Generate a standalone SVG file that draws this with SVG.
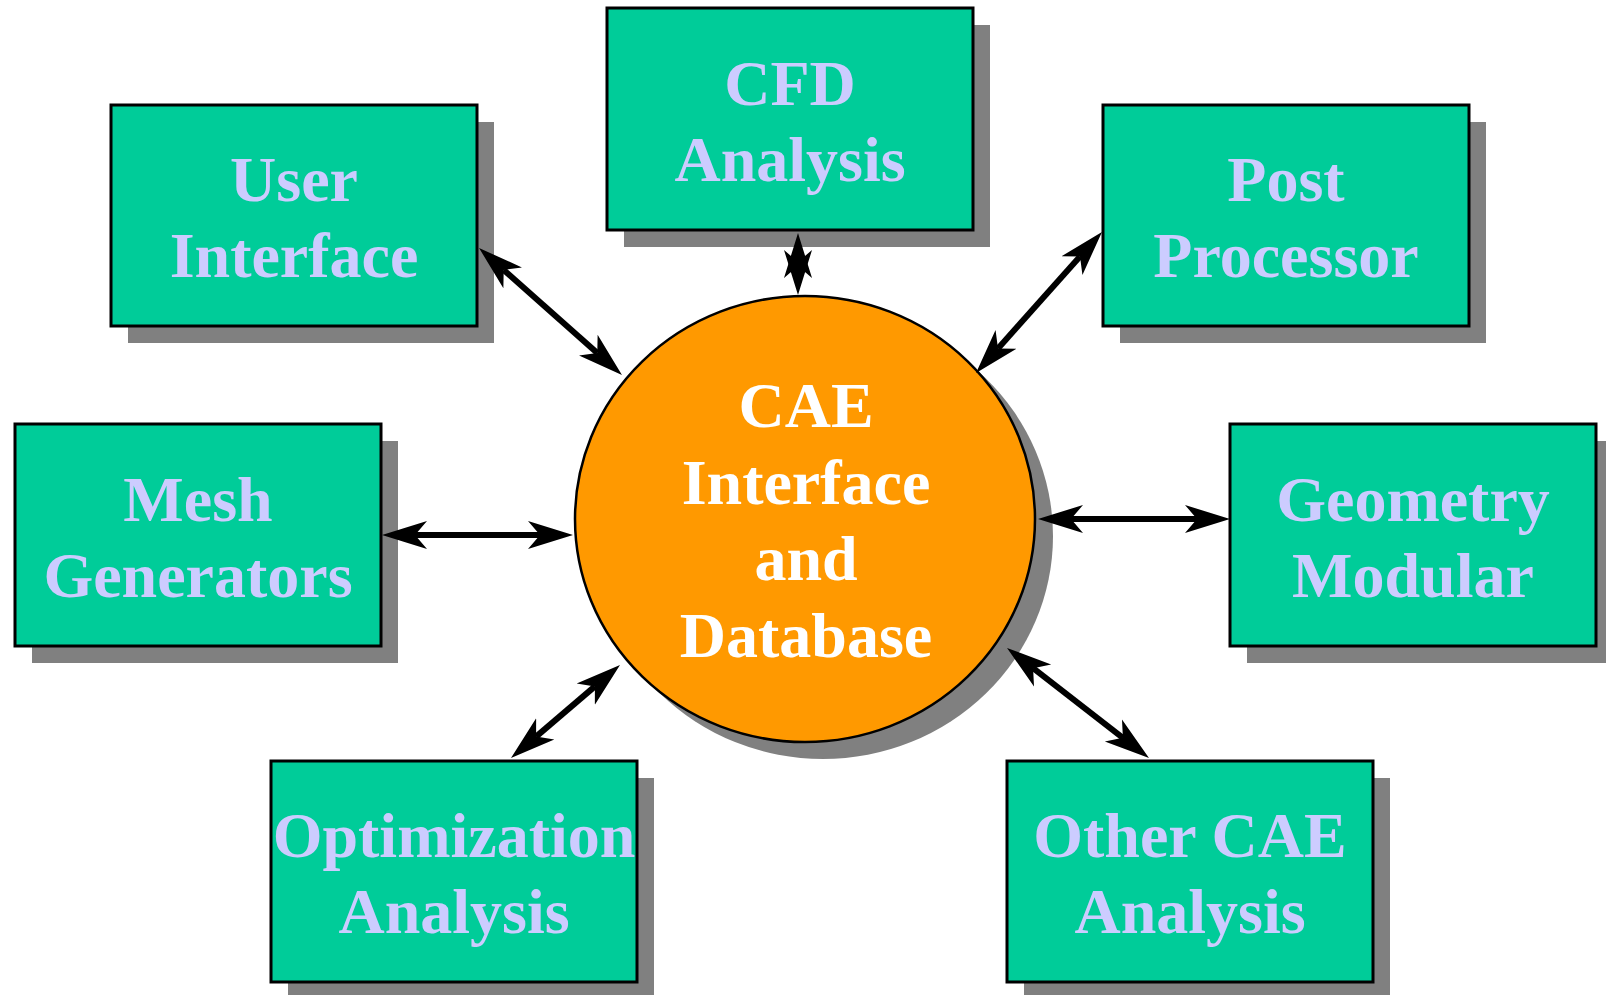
<svg xmlns="http://www.w3.org/2000/svg" width="1606" height="995" viewBox="0 0 1606 995">
  <style>
    .shadow { fill: #808080; }
    .box { fill: #00CC99; stroke: #000000; stroke-width: 3; }
    .hub { fill: #FF9900; stroke: #000000; stroke-width: 2.5; }
    .label { font-family: "Liberation Serif", "Times New Roman", serif; font-weight: bold; font-size: 64px; fill: #CCCCFF; text-anchor: middle; }
    .hub-label { font-family: "Liberation Serif", "Times New Roman", serif; font-weight: bold; font-size: 64px; fill: #FFFFFF; text-anchor: middle; }
    .link { fill: none; stroke: #000000; stroke-width: 6; marker-start: url(#head); marker-end: url(#head); }
    .half { fill: none; stroke: #000000; stroke-width: 6; marker-end: url(#head); }
  </style>
  <defs>
    <!-- barbed arrowhead; reference point sits in the notch, tip lies 33px ahead -->
    <marker id="head" markerUnits="userSpaceOnUse" markerWidth="46" markerHeight="30" viewBox="0 0 46 30" refX="12" refY="15" orient="auto-start-reverse">
      <path d="M45,15 L0,1 L12,15 L0,29 Z" fill="#000000"/>
    </marker>
  </defs>

  <rect width="1606" height="995" fill="#FFFFFF"/>

  <g id="node-cfd">
    <rect class="shadow" x="624" y="25" width="366" height="222"/>
    <rect class="box" x="607" y="8" width="366" height="222"/>
    <text class="label" x="790" y="105">CFD</text>
    <text class="label" x="790" y="181">Analysis</text>
  </g>

  <g id="node-user-interface">
    <rect class="shadow" x="128" y="122" width="366" height="221"/>
    <rect class="box" x="111" y="105" width="366" height="221"/>
    <text class="label" x="294" y="201">User</text>
    <text class="label" x="294" y="277">Interface</text>
  </g>

  <g id="node-post-processor">
    <rect class="shadow" x="1120" y="122" width="366" height="221"/>
    <rect class="box" x="1103" y="105" width="366" height="221"/>
    <text class="label" x="1286" y="201">Post</text>
    <text class="label" x="1286" y="277">Processor</text>
  </g>

  <g id="node-mesh-generators">
    <rect class="shadow" x="32" y="441" width="366" height="222"/>
    <rect class="box" x="15" y="424" width="366" height="222"/>
    <text class="label" x="198" y="521">Mesh</text>
    <text class="label" x="198" y="597">Generators</text>
  </g>

  <g id="node-geometry-modular">
    <rect class="shadow" x="1247" y="441" width="366" height="222"/>
    <rect class="box" x="1230" y="424" width="366" height="222"/>
    <text class="label" x="1413" y="521">Geometry</text>
    <text class="label" x="1413" y="597">Modular</text>
  </g>

  <g id="node-optimization">
    <rect class="shadow" x="288" y="778" width="366" height="221"/>
    <rect class="box" x="271" y="761" width="366" height="221"/>
    <text class="label" x="454" y="857">Optimization</text>
    <text class="label" x="454" y="933">Analysis</text>
  </g>

  <g id="node-other-cae">
    <rect class="shadow" x="1024" y="778" width="366" height="221"/>
    <rect class="box" x="1007" y="761" width="366" height="221"/>
    <text class="label" x="1190" y="857">Other CAE</text>
    <text class="label" x="1190" y="933">Analysis</text>
  </g>

  <g id="node-cae-hub">
    <ellipse class="shadow" cx="823" cy="536" rx="230" ry="223"/>
    <ellipse class="hub" cx="805" cy="519" rx="230" ry="223"/>
    <text class="hub-label" x="806" y="427">CAE</text>
    <text class="hub-label" x="806" y="504">Interface</text>
    <text class="hub-label" x="806" y="580">and</text>
    <text class="hub-label" x="806" y="657">Database</text>
  </g>

  <g id="connectors">
    <path class="link" d="M503.7,269.9 L597.3,353.1"/>
    <path class="link" d="M1080,256.6 L998,348.4"/>
    <path class="link" d="M415,535 L540,535"/>
    <path class="link" d="M1071,519 L1197,519"/>
    <path class="link" d="M594.9,686.4 L536.1,736.6"/>
    <path class="link" d="M1033.1,668.2 L1122.9,737.8"/>
    <!-- short vertical link: heads overlap, so each direction is its own stroke -->
    <path class="half" d="M798,268 L798,266"/>
    <path class="half" d="M798,260 L798,262"/>
  </g>
</svg>
